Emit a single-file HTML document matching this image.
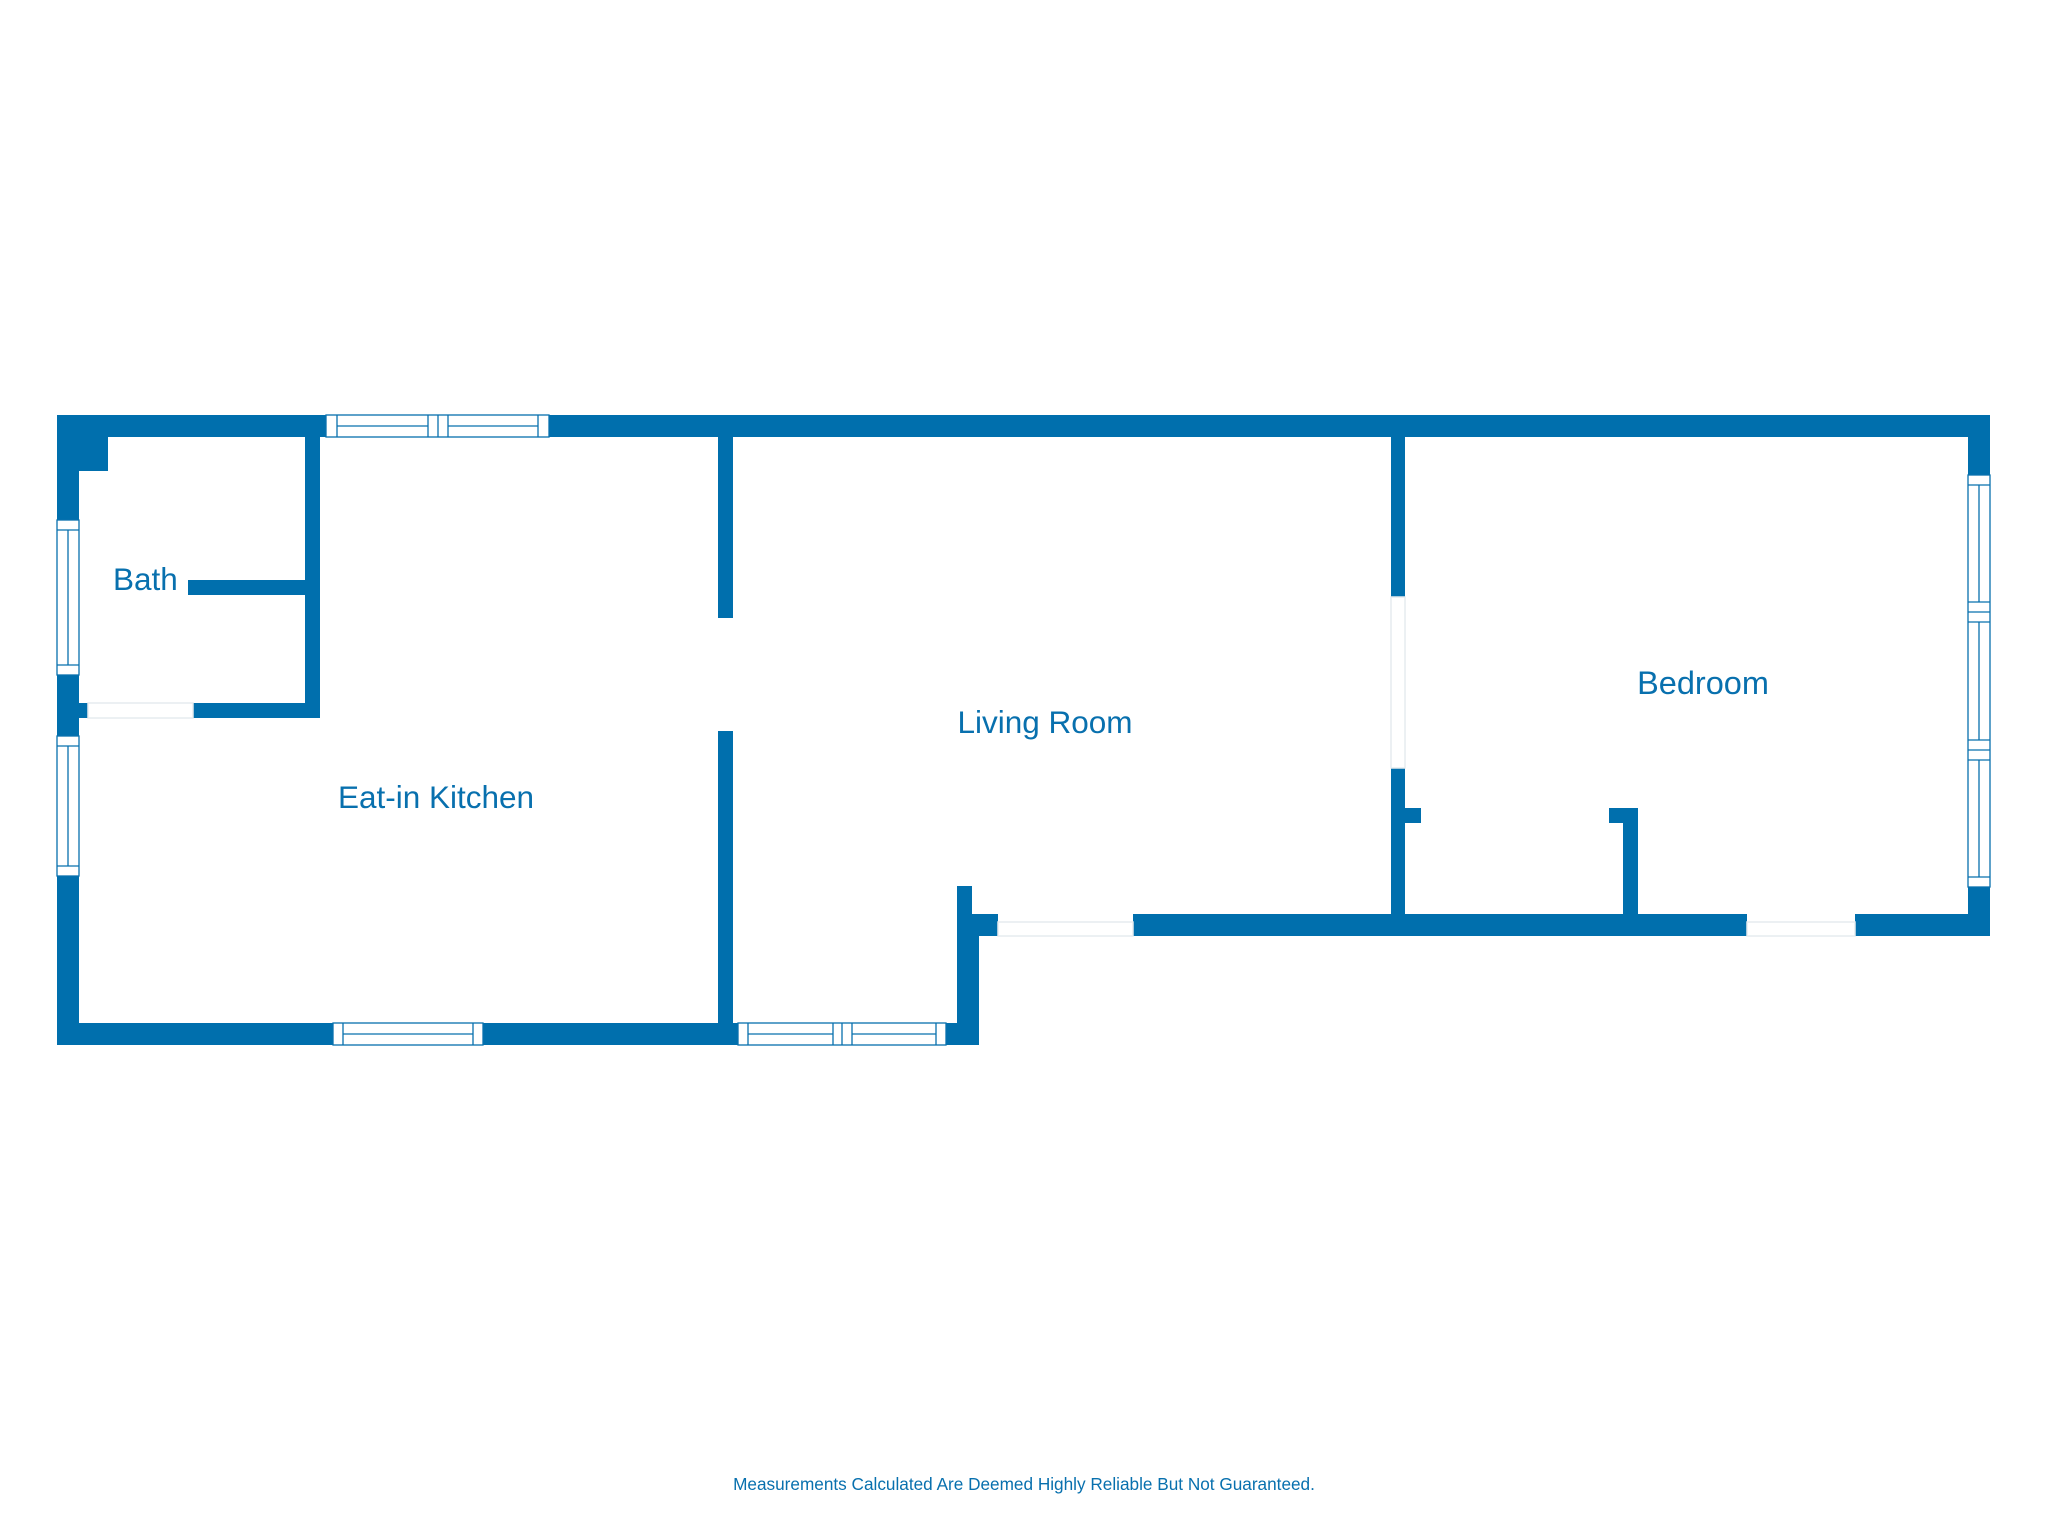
<!DOCTYPE html>
<html><head><meta charset="utf-8"><style>
html,body{margin:0;padding:0;background:#fff;}
svg{display:block;}
text{font-family:"Liberation Sans",sans-serif;fill:#0870AE;}
</style></head><body>
<svg width="2048" height="1536" viewBox="0 0 2048 1536" xmlns="http://www.w3.org/2000/svg">
<g fill="#006FAD">
<rect x="57" y="415" width="1933" height="22"/>
<rect x="57" y="415" width="22" height="105"/>
<rect x="57" y="675" width="22" height="61"/>
<rect x="57" y="876" width="22" height="169"/>
<rect x="57" y="415" width="51" height="56"/>
<rect x="305" y="437" width="15" height="281"/>
<rect x="188" y="580" width="117" height="15"/>
<rect x="193" y="703" width="127" height="15"/>
<rect x="79" y="703" width="9" height="15"/>
<rect x="57" y="1023" width="276" height="22"/>
<rect x="483" y="1023" width="255" height="22"/>
<rect x="946" y="1023" width="33" height="22"/>
<rect x="718" y="437" width="15" height="181"/>
<rect x="718" y="731" width="15" height="292"/>
<rect x="957" y="914" width="22" height="131"/>
<rect x="957" y="886" width="15" height="40"/>
<rect x="957" y="914" width="41" height="22"/>
<rect x="1133" y="914" width="614" height="22"/>
<rect x="1855" y="914" width="135" height="22"/>
<rect x="1391" y="437" width="14" height="160"/>
<rect x="1391" y="768" width="14" height="146"/>
<rect x="1405" y="808" width="16" height="15"/>
<rect x="1623" y="808" width="15" height="106"/>
<rect x="1609" y="808" width="14" height="15"/>
<rect x="1968" y="415" width="22" height="60"/>
<rect x="1968" y="887" width="22" height="49"/>
</g>
<g fill="none" stroke="#E6ECEF" stroke-width="1.5">
<rect x="88" y="703" width="105" height="15"/>
<rect x="998" y="922" width="135" height="14"/>
<rect x="1747" y="922" width="108" height="14"/>
<rect x="1391" y="597" width="14" height="171"/>
</g>
<g fill="#fff" stroke="#0870AE" stroke-width="1.3">
<rect x="326" y="415" width="223" height="22"/>
<line x1="337" y1="415" x2="337" y2="437"/><line x1="538" y1="415" x2="538" y2="437"/>
<line x1="428" y1="415" x2="428" y2="437"/><line x1="438" y1="415" x2="438" y2="437"/><line x1="448" y1="415" x2="448" y2="437"/>
<line x1="337" y1="426" x2="428" y2="426"/><line x1="448" y1="426" x2="538" y2="426"/>
<rect x="333" y="1023" width="150" height="22"/>
<line x1="343" y1="1023" x2="343" y2="1045"/><line x1="473" y1="1023" x2="473" y2="1045"/>
<line x1="343" y1="1034" x2="473" y2="1034"/>
<rect x="738" y="1023" width="208" height="22"/>
<line x1="748" y1="1023" x2="748" y2="1045"/><line x1="936" y1="1023" x2="936" y2="1045"/>
<line x1="833" y1="1023" x2="833" y2="1045"/><line x1="842" y1="1023" x2="842" y2="1045"/><line x1="852" y1="1023" x2="852" y2="1045"/>
<line x1="748" y1="1034" x2="833" y2="1034"/><line x1="852" y1="1034" x2="936" y2="1034"/>
<rect x="57" y="520" width="22" height="155"/>
<line x1="57" y1="530" x2="79" y2="530"/><line x1="57" y1="665" x2="79" y2="665"/>
<line x1="68" y1="530" x2="68" y2="665"/>
<rect x="57" y="736" width="22" height="140"/>
<line x1="57" y1="746" x2="79" y2="746"/><line x1="57" y1="866" x2="79" y2="866"/>
<line x1="68" y1="746" x2="68" y2="866"/>
<rect x="1968" y="475" width="22" height="412"/>
<line x1="1968" y1="485" x2="1990" y2="485"/><line x1="1968" y1="877" x2="1990" y2="877"/>
<line x1="1968" y1="602" x2="1990" y2="602"/><line x1="1968" y1="612" x2="1990" y2="612"/><line x1="1968" y1="622" x2="1990" y2="622"/>
<line x1="1968" y1="740" x2="1990" y2="740"/><line x1="1968" y1="750" x2="1990" y2="750"/><line x1="1968" y1="760" x2="1990" y2="760"/>
<line x1="1979" y1="485" x2="1979" y2="602"/><line x1="1979" y1="622" x2="1979" y2="740"/><line x1="1979" y1="760" x2="1979" y2="877"/>
</g>
<text x="113" y="590" font-size="31.5">Bath</text>
<text x="436" y="808" font-size="31.5" text-anchor="middle">Eat-in Kitchen</text>
<text x="1045" y="733" font-size="31.5" text-anchor="middle">Living Room</text>
<text x="1703" y="694" font-size="32.5" text-anchor="middle">Bedroom</text>
<text x="1024" y="1490" font-size="17.2" text-anchor="middle">Measurements Calculated Are Deemed Highly Reliable But Not Guaranteed.</text>
</svg>
</body></html>
